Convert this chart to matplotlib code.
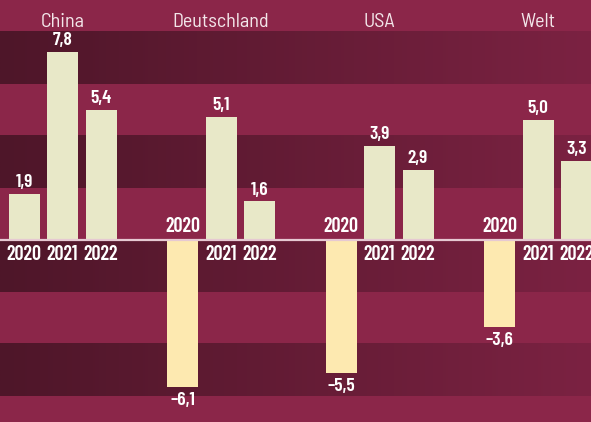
import matplotlib.pyplot as plt
import numpy as np
from matplotlib.colors import LinearSegmentedColormap

countries = ["China", "Deutschland", "USA", "Welt"]
years = ["2020", "2021", "2022"]
values = {
    "China": [1.9, 7.8, 5.4],
    "Deutschland": [-6.1, 5.1, 1.6],
    "USA": [-5.5, 3.9, 2.9],
    "Welt": [-3.6, 5.0, 3.3],
}

bg = "#8b2649"
pos_col = "#e8e8c8"
neg_col = "#fde9b0"
bold_font = ["Barlow Condensed", "DejaVu Sans"]
head_font = ["Barlow Semi Condensed", "DejaVu Sans"]

fig = plt.figure(figsize=(5.91, 4.22), dpi=100)
fig.patch.set_facecolor(bg)
ax = fig.add_axes([0, 0, 1, 1])
ax.set_facecolor(bg)

# dark stripes, darker on the left
cmap = LinearSegmentedColormap.from_list("band", ["#4e1629", "#7b2242"])
grad = np.linspace(0, 1, 256).reshape(1, -1)
step = 2.16
for k in [-3, -1, 1, 3]:
    ax.imshow(grad, cmap=cmap, aspect="auto", extent=[0, 591, k * step, (k + 1) * step], zorder=0)

gap = 158.5
off = 38.5
for i, c in enumerate(countries):
    cx = 62.5 + gap * i
    ax.text(cx, 9.05, c, ha="center", va="center", color="#f3e6ea",
            fontsize=14.5, family=head_font)
    for j, (y, v) in enumerate(zip(years, values[c])):
        x = cx + (j - 1) * off
        ax.bar(x, v, width=31, color=pos_col if v >= 0 else neg_col, zorder=2)
        lab = f"{abs(v):.1f}".replace(".", ",")
        if v >= 0:
            ax.text(x, v + 0.12, lab, ha="center", va="bottom", color="white",
                    fontsize=14, fontweight="semibold", family=bold_font, zorder=3)
            ax.text(x, -0.22, y, ha="center", va="top", color="white",
                    fontsize=14.5, fontweight="semibold", family=bold_font, zorder=3)
        else:
            ax.text(x, v - 0.22, "\u2013" + lab, ha="center", va="top", color="white",
                    fontsize=14, fontweight="semibold", family=bold_font, zorder=3)
            ax.text(x, 0.17, y, ha="center", va="bottom", color="white",
                    fontsize=14.5, fontweight="semibold", family=bold_font, zorder=3)

ax.axhline(0, color="#e6c9d2", lw=1.6, zorder=4)
ax.set_xlim(0, 591)
ax.set_ylim(-7.55, 9.96)
ax.axis("off")

fig.savefig("out.png", dpi=100, facecolor=bg)
